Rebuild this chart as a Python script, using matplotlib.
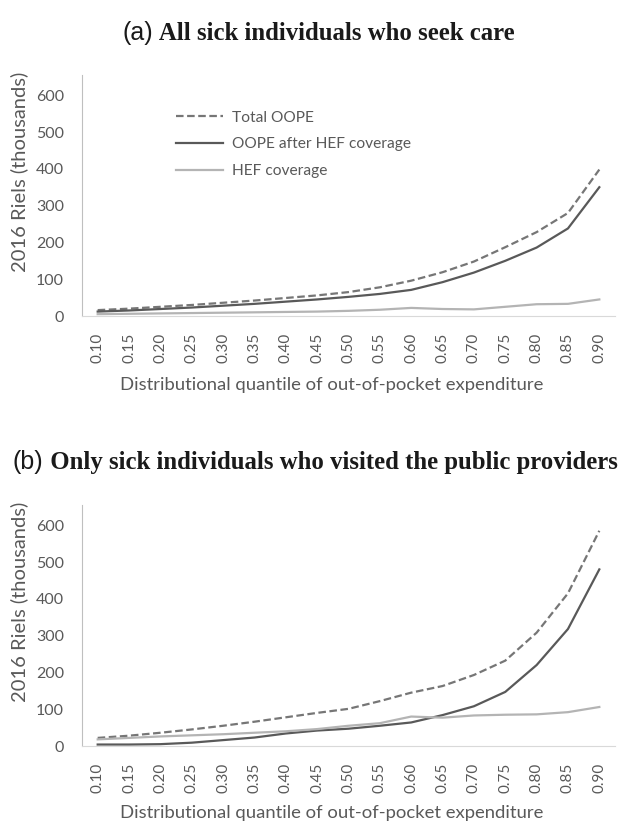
import numpy as np
import matplotlib
matplotlib.use("Agg")
from matplotlib import pyplot as plt

quantiles = ["0.10", "0.15", "0.20", "0.25", "0.30", "0.35", "0.40", "0.45", "0.50",
             "0.55", "0.60", "0.65", "0.70", "0.75", "0.80", "0.85", "0.90"]

# (a) all sick individuals who seek care
total_a = [16, 20, 25, 30, 36, 42, 49, 56, 65, 78, 96, 119, 148, 187, 228, 280, 398]
after_a = [12, 15, 19, 23, 28, 33, 39, 45, 52, 60, 71, 92, 118, 150, 186, 238, 350]
hef_a = [5, 6, 7, 8, 9, 10, 11, 12, 14, 17, 22, 19, 18, 25, 32, 33, 45]

# (b) only sick individuals who visited the public providers
total_b = [22, 28, 36, 45, 55, 66, 78, 90, 101, 122, 145, 163, 193, 232, 308, 415, 585]
after_b = [4, 4, 5, 9, 16, 23, 34, 42, 47, 55, 64, 84, 108, 147, 220, 318, 480]
hef_b = [18, 22, 26, 29, 32, 36, 40, 46, 55, 62, 80, 77, 83, 85, 86, 92, 106]

series_labels = ["Total OOPE", "OOPE after HEF coverage", "HEF coverage"]
panel_titles = [("(a)", " All sick individuals who seek care"),
                ("(b)", " Only sick individuals who visited the public providers")]

txt = "#595959"
sans = "Lato"

fig = plt.figure(figsize=(6.27, 8.26), dpi=100)
W, H = 627, 826


def draw_panel(rect, total, after, hef, legend, xlab_y):
    ax = fig.add_axes(rect)
    x = np.arange(len(quantiles))
    ax.plot(x, total, color="#767676", lw=1.6, linestyle=(0, (3.4, 1.6)), label=series_labels[0])
    ax.plot(x, after, color="#595959", lw=1.6, label=series_labels[1])
    ax.plot(x, hef, color="#b4b4b4", lw=1.6, label=series_labels[2])
    ax.set_xlim(-0.5, len(quantiles) - 0.5)
    ax.set_ylim(0, 655)
    ax.set_yticks(range(0, 700, 100))
    ax.set_xticks(x)
    ax.set_xticklabels(quantiles, rotation=90, fontfamily=sans, fontsize=11, color=txt)
    for lab in ax.get_yticklabels():
        lab.set_fontfamily(sans)
        lab.set_fontsize(11.5)
        lab.set_color(txt)
    ax.tick_params(axis="both", length=0)
    ax.tick_params(axis="y", pad=13)
    ax.tick_params(axis="x", pad=12)
    for s in ["top", "right"]:
        ax.spines[s].set_visible(False)
    ax.spines["left"].set_color("#bfbfbf")
    ax.spines["bottom"].set_color("#d9d9d9")
    ax.set_ylabel("2016 Riels (thousands)", fontfamily=sans, fontsize=14.5, color=txt)
    ax.set_xlabel("Distributional quantile of out-of-pocket expenditure", fontfamily=sans,
                  fontsize=13.3, color=txt)
    ax.yaxis.set_label_coords(-0.101, 0.60)
    ax.xaxis.set_label_coords(0.469, xlab_y)
    if legend:
        ax.legend(loc="upper left", bbox_to_anchor=(0.15, 0.91), frameon=False,
                  prop={"family": sans, "size": 11.2}, labelcolor=txt,
                  handlelength=3.0, handletextpad=0.6, labelspacing=0.82)
    return ax


draw_panel([82 / W, 1 - 316 / H, 533 / W, 241 / H], total_a, after_a, hef_a, True, -0.252)
draw_panel([82 / W, 1 - 746 / H, 533 / W, 241 / H], total_b, after_b, hef_b, False, -0.245)

# panel titles: sans-serif letter, bold serif text
renderer = fig.canvas.get_renderer()
for (letter, rest), (x0, yb) in zip(panel_titles, [(123, 40), (13, 469)]):
    t1 = fig.text(x0 / W, 1 - yb / H, letter, fontfamily="Liberation Sans", fontsize=18,
                  color="#1a1a1a", va="baseline")
    bb = t1.get_window_extent(renderer)
    fig.text(bb.x1 / fig.bbox.width, 1 - yb / H, rest, fontfamily="Liberation Serif",
             fontweight="bold", fontsize=17.8, color="#1a1a1a", va="baseline")

fig.savefig("out.png", dpi=100)
